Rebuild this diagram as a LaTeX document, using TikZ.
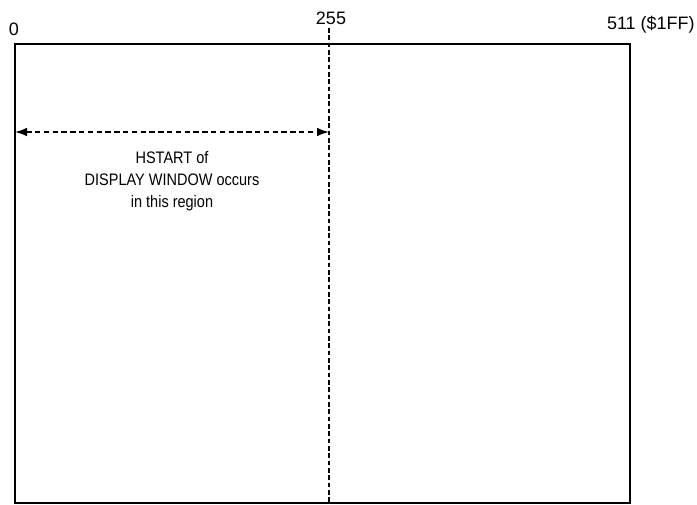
\documentclass[tikz,border=0pt]{standalone}
\usepackage{fontspec}
\setmainfont{Liberation Sans}
\usetikzlibrary{arrows.meta}

\tikzstyle{frame} = [draw, line width=1.9pt]
\tikzstyle{divider} = [line width=2pt, dash pattern=on 3.5pt off 2pt]
\tikzstyle{span} = [line width=1.1pt, dash pattern=on 4pt off 2.6pt, {Latex[length=9pt,width=6.5pt]}-{Latex[length=9pt,width=6.5pt]}]
\tikzstyle{marker} = [inner sep=0pt, xscale=0.87, transform shape, font=\fontsize{12.5}{16.5}\selectfont]
\tikzstyle{scalemark} = [inner sep=0pt, font=\fontsize{13.5}{16}\selectfont]

\begin{document}
\begin{tikzpicture}[x=0.75pt, y=-0.75pt]
\useasboundingbox (0,0) rectangle (697,504);
%outline
\coordinate (tl) at (15,44);
\coordinate (br) at (630,503);
\draw[frame] (tl) rectangle (br);
%begin divider at 255
\coordinate (midtop) at (329,28);
\coordinate (midbot) at (329,503);
\draw[divider] (midtop) -- (midbot);
%end divider
%begin positions
\node[scalemark] (zero) at (14,29) {0};
\node[scalemark] (half) at (331,18) {255};
\node[scalemark, anchor=east] (full) at (695,25) {511 (\$1FF)};
%end positions
%begin region
\coordinate (left) at (15,132);
\coordinate (right) at (329,132);
\draw[span] (left) -- (right);
\node[marker, align=center] (note) at (172,181) {HSTART of\\DISPLAY WINDOW occurs\\in this region};
%end region
\end{tikzpicture}
\end{document}
